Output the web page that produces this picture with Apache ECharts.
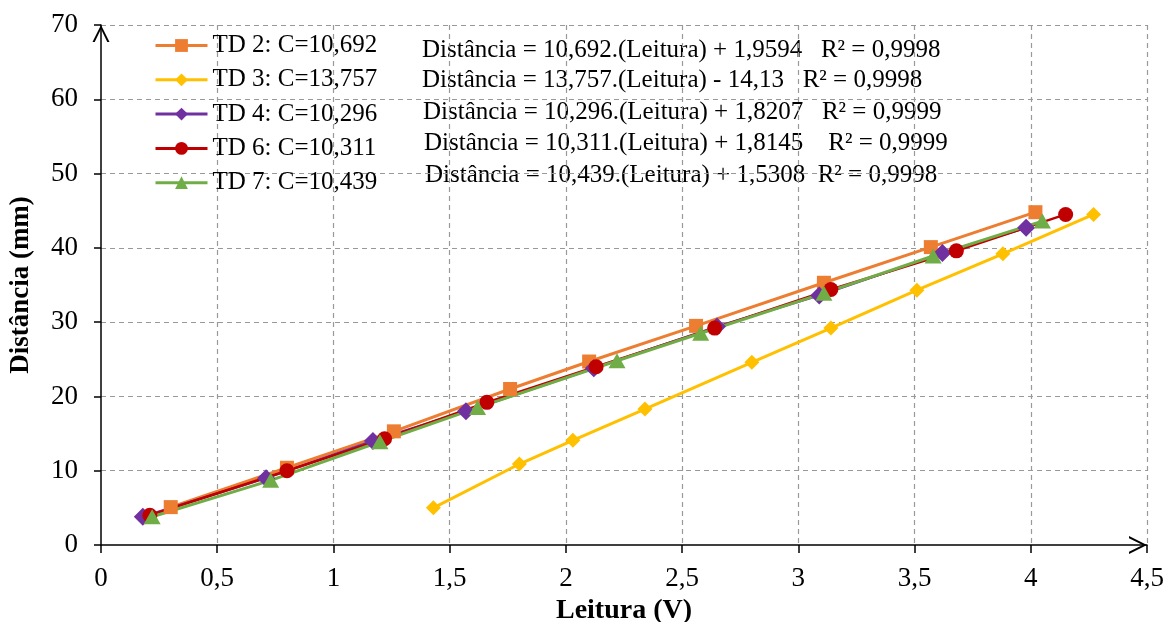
<!DOCTYPE html>
<html>
<head>
<meta charset="utf-8">
<script src="https://cdn.jsdelivr.net/npm/echarts@6/dist/echarts.min.js"></script>
<style>
html, body { margin: 0; padding: 0; background: #fff; }
#chart { width: 1166px; height: 622px; }
</style>
</head>
<body>
<div id="chart"></div>
<script>
// Leitura (V) x Distância (mm)
var td2X = [0.30, 0.80, 1.26, 1.76, 2.10, 2.56, 3.11, 3.57, 4.02];
var td2Y = [5.1, 10.4, 15.3, 21.0, 24.7, 29.5, 35.3, 40.1, 44.8];
var td3X = [1.43, 1.80, 2.03, 2.34, 2.80, 3.14, 3.51, 3.88, 4.27];
var td3Y = [5.0, 10.9, 14.1, 18.3, 24.6, 29.2, 34.3, 39.2, 44.5];
var td4X = [0.18, 0.71, 1.17, 1.57, 2.12, 2.65, 3.09, 3.62, 3.98];
var td4Y = [3.8, 9.0, 14.0, 18.0, 23.8, 29.4, 33.6, 39.3, 42.7];
var td6X = [0.21, 0.80, 1.22, 1.66, 2.13, 2.64, 3.14, 3.68, 4.15];
var td6Y = [4.0, 10.0, 14.3, 19.2, 24.0, 29.2, 34.4, 39.6, 44.5];
var td7X = [0.22, 0.73, 1.20, 1.62, 2.22, 2.58, 3.11, 3.58, 4.05];
var td7Y = [3.8, 8.7, 13.9, 18.5, 24.8, 28.5, 33.9, 38.9, 43.6];

var seriesNames = ['TD 2: C=10,692', 'TD 3: C=13,757', 'TD 4: C=10,296', 'TD 6: C=10,311', 'TD 7: C=10,439'];
var equations = [
    'Distância = 10,692.(Leitura) + 1,9594   R² = 0,9998',
    'Distância = 13,757.(Leitura) - 14,13   R² = 0,9998',
    'Distância = 10,296.(Leitura) + 1,8207   R² = 0,9999',
    'Distância = 10,311.(Leitura) + 1,8145    R² = 0,9999',
    'Distância = 10,439.(Leitura) + 1,5308  R² = 0,9998'
];

function pairs(xs, ys) {
    var out = [];
    for (var i = 0; i < xs.length; i++) {
        out.push([xs[i], ys[i]]);
    }
    return out;
}
function comma(v) {
    return String(v).replace('.', ',');
}

var fontFam = '"Liberation Serif", "Times New Roman", serif';
var arrow = 'path://M0,10 L5,0 L10,10 L8.7,10 L5,2.4 L1.3,10 Z';

// texto das equações ao lado da legenda
var eqX = [422, 422, 423, 424, 425];
var eqY = [50, 80, 112, 143, 175];
var eqGraphics = [];
for (var k = 0; k < equations.length; k++) {
    eqGraphics.push({
        type: 'text',
        x: eqX[k],
        y: eqY[k],
        style: {
            text: equations[k],
            font: '25px ' + fontFam,
            fill: '#000',
            verticalAlign: 'middle'
        }
    });
}

var myChart = echarts.init(document.getElementById('chart'));
var option = {
    backgroundColor: '#fff',
    animation: false,
    grid: {
        left: 101,
        right: 19,
        top: 25,
        bottom: 77,
        containLabel: false,
        outerBoundsMode: 'none'
    },
    legend: {
        orient: 'vertical',
        left: 149,
        top: 28,
        itemWidth: 52,
        itemHeight: 16,
        itemGap: 9.3,
        data: seriesNames,
        lineStyle: { width: 3 },
        textStyle: {
            fontFamily: fontFam,
            fontSize: 25,
            color: '#000',
            lineHeight: 25
        }
    },
    graphic: eqGraphics,
    xAxis: {
        type: 'value',
        min: 0,
        max: 4.5,
        interval: 0.5,
        name: 'Leitura (V)',
        nameLocation: 'middle',
        nameGap: 50,
        nameTextStyle: { fontFamily: fontFam, fontSize: 28, fontWeight: 'bold', color: '#000' },
        axisLine: { lineStyle: { color: '#000', width: 1.5 }, symbol: ['none', arrow], symbolSize: [20, 18], symbolOffset: [0, -9] },
        axisTick: { show: true, inside: false, length: 8, lineStyle: { color: '#000', width: 1.5 } },
        axisLabel: { fontFamily: fontFam, fontSize: 27, color: '#000', margin: 20, formatter: comma },
        splitLine: { show: true, showMinLine: false, lineStyle: { color: '#999', type: [5, 4], width: 1.2 } }
    },
    yAxis: {
        type: 'value',
        min: 0,
        max: 70,
        interval: 10,
        name: 'Distância (mm)',
        nameLocation: 'middle',
        nameGap: 66,
        nameTextStyle: { fontFamily: fontFam, fontSize: 27, fontWeight: 'bold', color: '#000' },
        axisLine: { show: true, lineStyle: { color: '#000', width: 1.5 }, symbol: ['none', arrow], symbolSize: [19, 17], symbolOffset: [0, -8.5] },
        axisTick: { show: true, length: 7, lineStyle: { color: '#000', width: 1.5 } },
        axisLabel: { fontFamily: fontFam, fontSize: 27, color: '#000', margin: 23 },
        splitLine: { show: true, showMinLine: false, lineStyle: { color: '#999', type: [5, 4], width: 1.2 } }
    },
    series: [
        {
            name: seriesNames[0],
            type: 'line',
            data: pairs(td2X, td2Y),
            symbol: 'rect',
            symbolSize: 14,
            itemStyle: { color: '#ED7D31' },
            lineStyle: { color: '#ED7D31', width: 3 }
        },
        {
            name: seriesNames[1],
            type: 'line',
            data: pairs(td3X, td3Y),
            symbol: 'diamond',
            symbolSize: 15,
            itemStyle: { color: '#FFC000' },
            lineStyle: { color: '#FFC000', width: 3 }
        },
        {
            name: seriesNames[2],
            type: 'line',
            data: pairs(td4X, td4Y),
            symbol: 'diamond',
            symbolSize: 18,
            itemStyle: { color: '#7030A0' },
            lineStyle: { color: '#7030A0', width: 2.5 }
        },
        {
            name: seriesNames[3],
            type: 'line',
            data: pairs(td6X, td6Y),
            symbol: 'circle',
            symbolSize: 15,
            itemStyle: { color: '#C00000' },
            lineStyle: { color: '#C00000', width: 2.5 }
        },
        {
            name: seriesNames[4],
            type: 'line',
            data: pairs(td7X, td7Y),
            symbol: 'triangle',
            symbolSize: [17, 15],
            itemStyle: { color: '#70AD47' },
            lineStyle: { color: '#70AD47', width: 3 }
        }
    ]
};
myChart.setOption(option, true);
</script>
</body>
</html>
